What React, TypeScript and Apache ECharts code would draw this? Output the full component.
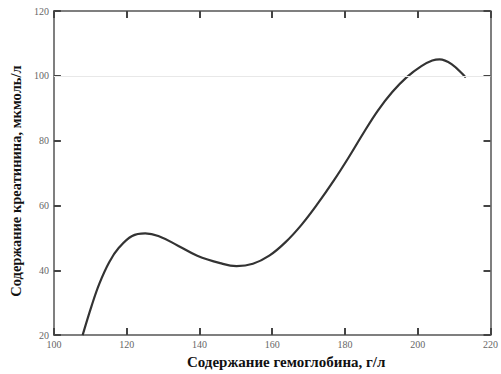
import React, { useEffect, useRef } from "react";
import * as echarts from "echarts";

const hemoglobin = [107.9, 110.3, 112.5, 115.2, 117.9, 121.5, 125.1, 128.7, 134.1, 139.4, 145.7, 150.2, 154.7, 159.2, 163.6, 168.1, 172.6, 177.0, 181.0, 185.0, 189.0, 193.0, 197.0, 201.0, 204.0, 206.0, 209.3, 213.2];
const creatinine = [20.0, 28.8, 35.9, 42.5, 47.0, 50.6, 51.4, 50.6, 47.6, 44.5, 42.2, 41.3, 42.0, 44.5, 48.6, 54.1, 60.7, 67.8, 74.8, 82.2, 89.2, 95.0, 99.6, 103.0, 104.7, 105.1, 103.6, 99.5];

const xTitle = "Содержание гемоглобина, г/л";
const yTitle = "Содержание креатинина, мкмоль/л";

export default function App() {
  const ref = useRef<HTMLDivElement>(null);
  useEffect(() => {
    if (!ref.current) return;
    const chart = echarts.init(ref.current, null, { renderer: "svg" });
    const axisLine = () => ({ show: true, onZero: false, lineStyle: { color: "#555", width: 1.5 } });
    const tick = () => ({ show: true, inside: true, length: 7, lineStyle: { color: "#444", width: 2 } });
    const label = () => ({ color: "#666", fontFamily: "Liberation Serif", fontSize: 10 });
    chart.setOption({
      animation: false,
      grid: { left: 48, right: 8, top: 11, bottom: 35 },
      xAxis: [
        {
          type: "value", min: 100, max: 220, interval: 20,
          axisLine: axisLine(), axisTick: tick(), axisLabel: { ...label(), margin: 4 },
          splitLine: { show: false },
          name: xTitle, nameLocation: "middle", nameGap: 17,
          nameTextStyle: { fontFamily: "Liberation Serif", fontWeight: "bold", fontSize: 15, color: "#111", padding: [0, 0, 0, 28] },
        },
        {
          type: "value", position: "top", min: 100, max: 220, interval: 20,
          axisLine: axisLine(), axisTick: tick(), axisLabel: { show: false }, splitLine: { show: false },
        },
      ],
      yAxis: [
        {
          type: "value", min: 20, max: 120, interval: 20,
          axisLine: axisLine(), axisTick: tick(), axisLabel: { ...label(), margin: 5 },
          splitLine: { show: false },
          name: yTitle, nameLocation: "middle", nameGap: 27,
          nameTextStyle: { fontFamily: "Liberation Serif", fontWeight: "bold", fontSize: 14.5, color: "#111", padding: [0, 16, 0, 0] },
        },
        {
          type: "value", position: "right", min: 20, max: 120, interval: 20,
          axisLine: axisLine(), axisTick: tick(), axisLabel: { show: false }, splitLine: { show: false },
        },
      ],
      series: [
        {
          type: "line",
          data: hemoglobin.map((x, i) => [x, creatinine[i]]),
          smooth: 0.4,
          showSymbol: false,
          lineStyle: { color: "#333", width: 2.2 },
          markLine: {
            silent: true, symbol: "none", label: { show: false },
            lineStyle: { color: "#e8e8e8", width: 1, type: "solid" },
            data: [{ yAxis: 100 }],
          },
        },
      ],
    });
    return () => chart.dispose();
  }, []);
  return <div ref={ref} style={{ width: 501, height: 374, position: "absolute", left: 0, top: 0 }} />;
}
